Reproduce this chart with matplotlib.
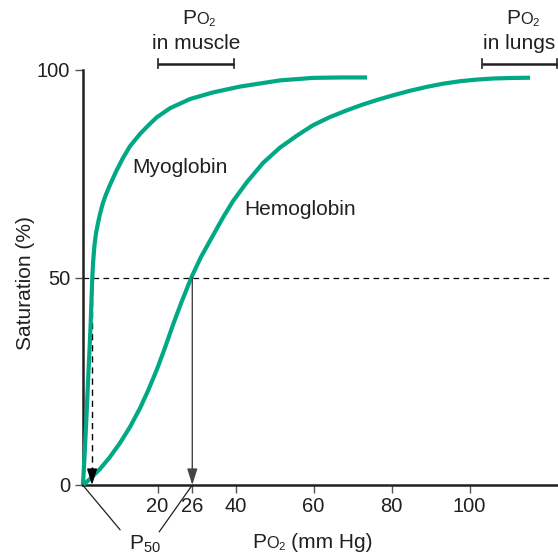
import matplotlib
matplotlib.use("Agg")
import matplotlib.pyplot as plt
from matplotlib.offsetbox import TextArea, HPacker, AnnotationBbox

plt.rcParams['font.family'] = ['Liberation Sans', 'DejaVu Sans']
plt.rcParams['mathtext.fontset'] = 'custom'
plt.rcParams['mathtext.rm'] = 'Liberation Sans'

# ---- data ----
myo_x = [0.87, 1.13, 1.46, 1.77, 2.15, 2.54, 2.85, 3.05, 3.26, 3.51, 3.82, 4.21,
         4.72, 5.23, 6.0, 6.77, 7.79, 9.33, 11.13, 12.9, 15.5, 18.0, 19.8, 23.2,
         28.3, 34.2, 41.1, 51.4, 59.8, 66.8, 73.7]
myo_y = [0, 4.5, 10.5, 16.5, 24.5, 32.5, 39.0, 44.6, 50.1, 54.2, 57.8, 60.7,
         63.1, 65.3, 68.0, 70.0, 72.3, 75.5, 78.8, 81.6, 84.6, 87.0, 88.6, 90.8,
         93.0, 94.6, 96.0, 97.5, 98.1, 98.2, 98.2]

hb_x = [0.87, 2.67, 5.23, 7.79, 10.36, 12.92, 15.49, 17.54, 19.85, 21.9, 23.95,
        26.1, 28.7, 31.1, 34.3, 36.8, 39.33, 42.92, 47.03, 51.38, 55.74, 59.85,
        64.21, 68.56, 72.67, 77.03, 80.36, 84.72, 89.08, 93.18, 97.54, 101.9,
        106.0, 110.4, 115.5]
hb_y = [0, 1.45, 3.86, 6.75, 10.12, 13.98, 18.5, 22.7, 27.9, 33.1, 38.6,
        44.0, 50.1, 54.9, 60.3, 64.5, 68.4, 73.0, 77.6, 81.3, 84.2, 86.7,
        88.67, 90.3, 91.7, 93.0, 93.9, 95.0, 95.95, 96.7, 97.3, 97.7,
        97.95, 98.07, 98.14]

myo_p50 = 3.2
hb_p50_pos = 28.9          # where the "26" P50 is drawn on the schematic axis
half_sat = 50

xtick_pos = [20, hb_p50_pos, 40, 60, 80, 100]
xtick_labels = ['20', '26', '40', '60', '80', '100']
ytick_pos = [0, 50, 100]
ytick_labels = ['0', '50', '100']

muscle_range = (20, 39.6)
lungs_range = (103.1, 122.3)
range_level = 101.5

GREEN = '#00a984'
TXT = '#231f20'
FS = 15

fig = plt.figure(figsize=(5.58, 5.56), dpi=100)
ax = fig.add_axes([82.7 / 558, 71 / 556, (557 - 82.7) / 558, 415 / 556])
ax.set_xlim(0.8, 122.4)
ax.set_ylim(0, 100)

for s in ['top', 'right']:
    ax.spines[s].set_visible(False)
for s in ['left', 'bottom']:
    ax.spines[s].set_linewidth(1.8)
    ax.spines[s].set_color(TXT)

ax.set_xticks(xtick_pos)
ax.set_xticklabels(xtick_labels)
ax.set_yticks(ytick_pos)
ax.set_yticklabels(ytick_labels)
ax.tick_params(axis='both', direction='out', length=6, width=1.0, color='#555555',
               labelsize=14.5, labelcolor=TXT, pad=3)

# curves
ax.plot(myo_x, myo_y, color=GREEN, lw=3.0, solid_capstyle='butt',
        solid_joinstyle='round', clip_on=False, zorder=3)
ax.plot(hb_x, hb_y, color=GREEN, lw=3.0, solid_capstyle='butt',
        solid_joinstyle='round', clip_on=False, zorder=3)

# 50 % dashed line
ax.plot([0.8, 121.4], [half_sat, half_sat], color='black', lw=0.9,
        dashes=(4.5, 3.5), zorder=2)

# myoglobin P50 dashed arrow
ax.plot([myo_p50, myo_p50], [half_sat, 3], color='black', lw=1.0,
        dashes=(4.5, 3.5), zorder=2)
ax.annotate('', xy=(myo_p50, 0), xytext=(myo_p50, 4),
            arrowprops=dict(arrowstyle='-|>,head_length=0.7,head_width=0.22',
                            color='black', lw=1.0, shrinkA=0, shrinkB=0,
                            mutation_scale=14), zorder=4)

# hemoglobin P50 solid arrow
ax.annotate('', xy=(hb_p50_pos, 0), xytext=(hb_p50_pos, half_sat),
            arrowprops=dict(arrowstyle='-|>,head_length=0.7,head_width=0.22',
                            color='#444444', lw=1.0, shrinkA=0, shrinkB=0,
                            mutation_scale=14), zorder=4)

# curve labels
ax.text(25.7, 76.6, 'Myoglobin', fontsize=FS, color=TXT, ha='center', va='center')
ax.text(56.4, 66.4, 'Hemoglobin', fontsize=FS, color=TXT, ha='center', va='center')

ax.set_ylabel('Saturation (%)', fontsize=FS, color=TXT, va='center')
ax.yaxis.set_label_coords(-0.12, 0.487)


def po2_box(suffix='', size=FS):
    kids = [TextArea('P', textprops=dict(fontsize=size, color=TXT)),
            TextArea(r'$\mathregular{O_2}$', textprops=dict(fontsize=size * 0.78, color=TXT))]
    if suffix:
        kids.append(TextArea(suffix, textprops=dict(fontsize=size, color=TXT)))
    return HPacker(children=kids, align='baseline', pad=0, sep=0)


# x-axis label
ab = AnnotationBbox(po2_box('\u2009(mm Hg)'), (0.4835, -0.14), xycoords='axes fraction',
                    box_alignment=(0.5, 0.5), frameon=False, pad=0, annotation_clip=False)
ax.add_artist(ab)

# range bars above plot
for (x0, x1), line2 in [(muscle_range, 'in muscle'), (lungs_range, 'in lungs')]:
    ax.plot([x0, x1], [range_level, range_level], color=TXT, lw=1.8,
            clip_on=False, solid_capstyle='butt')
    for xe in (x0, x1):
        ax.plot([xe, xe], [range_level - 1.1, range_level + 1.1], color=TXT,
                lw=1.2, clip_on=False)
    xc = (x0 + x1) / 2
    ax.text(xc, 105.0, line2, fontsize=FS, color=TXT,
            ha='center', va='baseline', clip_on=False)
    ab = AnnotationBbox(po2_box(), (xc + 1.0, 112.3), xycoords='data',
                        box_alignment=(0.5, 0.5), frameon=False, pad=0,
                        annotation_clip=False)
    ax.add_artist(ab)

# P50 label with leaders
ax.text(16.8, -14.3, r'$\mathregular{P_{50}}$', fontsize=FS, color=TXT,
        ha='center', va='center', clip_on=False)
ax.annotate('', xy=(0.8, 0), xytext=(10.4, -10.8),
            arrowprops=dict(arrowstyle='-', color=TXT, lw=0.9, shrinkA=0, shrinkB=0),
            annotation_clip=False)
ax.annotate('', xy=(hb_p50_pos, 0), xytext=(20.4, -11.3),
            arrowprops=dict(arrowstyle='-', color=TXT, lw=0.9, shrinkA=0, shrinkB=0),
            annotation_clip=False)

fig.savefig('out.png', dpi=100)
